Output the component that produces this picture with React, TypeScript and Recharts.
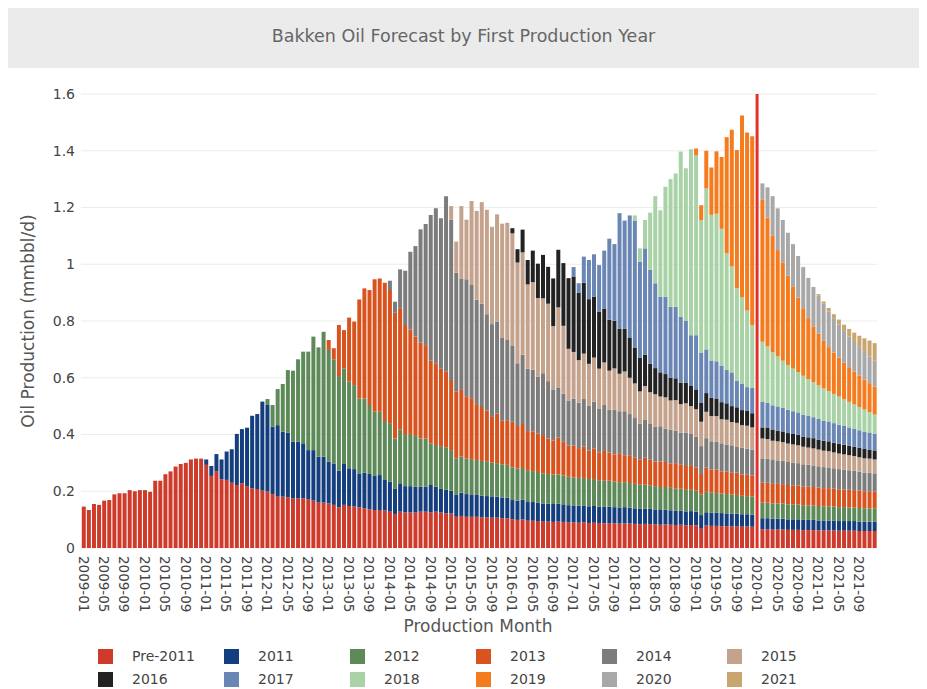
import React from 'react';
import { BarChart, Bar, XAxis, YAxis, CartesianGrid, ReferenceLine } from 'recharts';

// Category labels: production months 2009-01 .. 2021-12
const MONTHS: string[] = [];
for (let y = 2009; y <= 2021; y++) {
  for (let m = 1; m <= 12; m++) MONTHS.push(`${y}-${String(m).padStart(2, '0')}`);
}

const Y_TICKS = [0, 0.2, 0.4, 0.6, 0.8, 1, 1.2, 1.4, 1.6];
const TODAY = '2020-01';

// Series values (mmbbl/d), each starting at its first production year (Jan)
const PRE_2011 = [
  0.146, 0.134, 0.155, 0.152, 0.167, 0.169, 0.189, 0.193, 0.193, 0.204, 0.200, 0.204,
  0.204, 0.198, 0.237, 0.237, 0.260, 0.270, 0.287, 0.296, 0.300, 0.312, 0.315, 0.315,
  0.293, 0.254, 0.271, 0.242, 0.240, 0.230, 0.222, 0.228, 0.218, 0.210, 0.208, 0.202,
  0.199, 0.190, 0.181, 0.181, 0.179, 0.175, 0.175, 0.175, 0.172, 0.167, 0.160, 0.160,
  0.157, 0.152, 0.143, 0.152, 0.148, 0.146, 0.143, 0.140, 0.136, 0.134, 0.134, 0.132,
  0.128, 0.120, 0.128, 0.125, 0.125, 0.125, 0.128, 0.128, 0.125, 0.128, 0.125, 0.122,
  0.122, 0.110, 0.113, 0.110, 0.110, 0.110, 0.108, 0.108, 0.107, 0.107, 0.105, 0.105,
  0.101, 0.099, 0.101, 0.096, 0.096, 0.095, 0.093, 0.093, 0.092, 0.093, 0.092, 0.090,
  0.090, 0.089, 0.090, 0.088, 0.089, 0.088, 0.087, 0.088, 0.087, 0.086, 0.087, 0.086,
  0.085, 0.083, 0.085, 0.084, 0.083, 0.082, 0.083, 0.082, 0.081, 0.082, 0.080, 0.081,
  0.080, 0.068, 0.079, 0.078, 0.078, 0.077, 0.077, 0.076, 0.077, 0.075, 0.076, 0.075,
  null, 0.066, 0.066, 0.065, 0.065, 0.065, 0.064, 0.064, 0.064, 0.063, 0.063, 0.063,
  0.062, 0.062, 0.062, 0.062, 0.061, 0.061, 0.061, 0.061, 0.060, 0.060, 0.060, 0.060,
];
const Y2011 = [
  0.019, 0.035, 0.060, 0.070, 0.100, 0.118, 0.180, 0.191, 0.206, 0.256, 0.264, 0.314,
  0.305, 0.238, 0.252, 0.229, 0.227, 0.200, 0.200, 0.194, 0.173, 0.178, 0.162, 0.162,
  0.147, 0.146, 0.130, 0.144, 0.133, 0.132, 0.120, 0.125, 0.125, 0.120, 0.123, 0.110,
  0.106, 0.090, 0.100, 0.093, 0.093, 0.091, 0.088, 0.088, 0.097, 0.088, 0.085, 0.083,
  0.080, 0.077, 0.082, 0.080, 0.079, 0.077, 0.077, 0.075, 0.075, 0.074, 0.073, 0.072,
  0.068, 0.068, 0.069, 0.066, 0.066, 0.065, 0.064, 0.063, 0.063, 0.063, 0.062, 0.061,
  0.060, 0.060, 0.060, 0.059, 0.059, 0.058, 0.058, 0.058, 0.057, 0.057, 0.057, 0.056,
  0.055, 0.055, 0.054, 0.054, 0.053, 0.052, 0.052, 0.051, 0.050, 0.050, 0.049, 0.049,
  0.048, 0.048, 0.047, 0.047, 0.046, 0.046, 0.045, 0.045, 0.044, 0.044, 0.043, 0.043,
  null, 0.039, 0.039, 0.038, 0.038, 0.038, 0.037, 0.037, 0.037, 0.036, 0.036, 0.036,
  0.035, 0.035, 0.035, 0.035, 0.034, 0.034, 0.034, 0.034, 0.033, 0.033, 0.033, 0.033,
];
const Y2012 = [
  0.021, 0.076, 0.127, 0.168, 0.221, 0.250, 0.290, 0.323, 0.347, 0.400, 0.385, 0.440,
  0.394, 0.367, 0.333, 0.337, 0.305, 0.296, 0.264, 0.262, 0.243, 0.226, 0.223, 0.206,
  0.206, 0.176, 0.190, 0.180, 0.184, 0.179, 0.170, 0.170, 0.147, 0.147, 0.149, 0.150,
  0.143, 0.129, 0.127, 0.125, 0.124, 0.123, 0.122, 0.121, 0.120, 0.118, 0.117, 0.116,
  0.115, 0.113, 0.112, 0.110, 0.109, 0.108, 0.106, 0.105, 0.104, 0.103, 0.102, 0.100,
  0.099, 0.098, 0.097, 0.096, 0.095, 0.093, 0.092, 0.091, 0.090, 0.089, 0.088, 0.087,
  0.086, 0.085, 0.084, 0.083, 0.082, 0.081, 0.080, 0.079, 0.078, 0.077, 0.076, 0.075,
  0.074, 0.073, 0.072, 0.071, 0.070, 0.069, 0.068, 0.067, 0.066, 0.065, 0.064, 0.063,
  null, 0.055, 0.055, 0.054, 0.054, 0.054, 0.053, 0.053, 0.052, 0.052, 0.051, 0.051,
  0.051, 0.050, 0.050, 0.049, 0.049, 0.049, 0.048, 0.048, 0.048, 0.047, 0.047, 0.047,
];
const Y2013 = [
  0.035, 0.039, 0.180, 0.135, 0.226, 0.224, 0.349, 0.388, 0.405, 0.467, 0.470, 0.487,
  0.469, 0.443, 0.427, 0.388, 0.368, 0.350, 0.338, 0.329, 0.291, 0.288, 0.274, 0.266,
  0.247, 0.235, 0.235, 0.220, 0.215, 0.197, 0.190, 0.180, 0.160, 0.175, 0.155, 0.155,
  0.161, 0.150, 0.155, 0.140, 0.140, 0.135, 0.135, 0.125, 0.120, 0.130, 0.120, 0.110,
  0.112, 0.105, 0.110, 0.100, 0.108, 0.098, 0.105, 0.100, 0.096, 0.102, 0.095, 0.098,
  0.092, 0.088, 0.095, 0.090, 0.087, 0.090, 0.088, 0.085, 0.090, 0.086, 0.084, 0.087,
  0.082, 0.072, 0.085, 0.080, 0.083, 0.078, 0.080, 0.077, 0.079, 0.075, 0.077, 0.074,
  null, 0.070, 0.070, 0.069, 0.069, 0.068, 0.068, 0.067, 0.067, 0.066, 0.066, 0.065,
  0.065, 0.064, 0.064, 0.063, 0.063, 0.062, 0.062, 0.061, 0.061, 0.060, 0.060, 0.059,
];
const Y2014 = [
  0.033, 0.039, 0.137, 0.191, 0.274, 0.319, 0.399, 0.427, 0.514, 0.546, 0.529, 0.619,
  0.566, 0.419, 0.393, 0.412, 0.399, 0.368, 0.364, 0.340, 0.327, 0.324, 0.290, 0.285,
  0.267, 0.221, 0.244, 0.220, 0.217, 0.200, 0.218, 0.202, 0.180, 0.177, 0.168, 0.159,
  0.165, 0.160, 0.168, 0.158, 0.165, 0.155, 0.162, 0.150, 0.158, 0.148, 0.155, 0.145,
  0.140, 0.128, 0.135, 0.128, 0.122, 0.124, 0.118, 0.120, 0.115, 0.112, 0.117, 0.110,
  0.108, 0.098, 0.104, 0.100, 0.098, 0.099, 0.095, 0.097, 0.092, 0.094, 0.090, 0.092,
  null, 0.086, 0.085, 0.084, 0.083, 0.082, 0.081, 0.080, 0.079, 0.078, 0.077, 0.076,
  0.075, 0.074, 0.073, 0.072, 0.071, 0.070, 0.069, 0.068, 0.067, 0.066, 0.065, 0.064,
];
const Y2015 = [
  0.047, 0.110, 0.255, 0.210, 0.296, 0.313, 0.358, 0.368, 0.343, 0.378, 0.403, 0.413,
  0.397, 0.355, 0.361, 0.297, 0.309, 0.278, 0.264, 0.273, 0.223, 0.282, 0.239, 0.182,
  0.165, 0.150, 0.160, 0.148, 0.155, 0.140, 0.150, 0.138, 0.145, 0.132, 0.140, 0.128,
  0.122, 0.113, 0.118, 0.110, 0.115, 0.105, 0.110, 0.103, 0.107, 0.100, 0.104, 0.098,
  0.097, 0.086, 0.093, 0.089, 0.090, 0.085, 0.087, 0.082, 0.083, 0.080, 0.081, 0.078,
  null, 0.070, 0.069, 0.068, 0.067, 0.066, 0.065, 0.064, 0.063, 0.062, 0.061, 0.060,
  0.059, 0.058, 0.057, 0.056, 0.055, 0.054, 0.053, 0.052, 0.051, 0.050, 0.050, 0.049,
];
const Y2016 = [
  0.018, 0.047, 0.080, 0.086, 0.111, 0.121, 0.153, 0.130, 0.168, 0.203, 0.221, 0.249,
  0.266, 0.237, 0.250, 0.228, 0.215, 0.200, 0.190, 0.180, 0.168, 0.158, 0.150, 0.142,
  0.125, 0.118, 0.110, 0.100, 0.092, 0.085, 0.082, 0.080, 0.077, 0.075, 0.073, 0.071,
  0.070, 0.066, 0.066, 0.064, 0.062, 0.060, 0.058, 0.056, 0.055, 0.053, 0.052, 0.050,
  null, 0.039, 0.039, 0.038, 0.038, 0.038, 0.037, 0.037, 0.037, 0.036, 0.036, 0.036,
  0.035, 0.035, 0.035, 0.034, 0.034, 0.034, 0.033, 0.033, 0.033, 0.033, 0.032, 0.032,
];
const Y2017 = [
  0.033, 0.034, 0.092, 0.138, 0.149, 0.165, 0.204, 0.285, 0.270, 0.408, 0.382, 0.430,
  0.449, 0.339, 0.375, 0.331, 0.299, 0.267, 0.273, 0.250, 0.252, 0.233, 0.217, 0.179,
  0.191, 0.178, 0.154, 0.132, 0.131, 0.129, 0.118, 0.119, 0.094, 0.092, 0.084, 0.089,
  null, 0.091, 0.089, 0.087, 0.085, 0.084, 0.082, 0.080, 0.079, 0.077, 0.076, 0.074,
  0.073, 0.071, 0.070, 0.069, 0.067, 0.066, 0.065, 0.064, 0.062, 0.061, 0.060, 0.059,
];
const Y2018 = [
  0.018, 0.047, 0.100, 0.202, 0.307, 0.304, 0.387, 0.450, 0.470, 0.582, 0.538, 0.655,
  0.635, 0.466, 0.567, 0.513, 0.520, 0.482, 0.410, 0.373, 0.325, 0.306, 0.270, 0.222,
  null, 0.211, 0.198, 0.187, 0.176, 0.165, 0.158, 0.150, 0.142, 0.137, 0.129, 0.123,
  0.118, 0.113, 0.106, 0.103, 0.100, 0.094, 0.090, 0.085, 0.082, 0.078, 0.072, 0.067,
];
const Y2019 = [
  0.023, 0.053, 0.133, 0.167, 0.220, 0.253, 0.410, 0.482, 0.488, 0.640, 0.627, 0.665,
  null, 0.500, 0.455, 0.410, 0.375, 0.345, 0.315, 0.290, 0.262, 0.238, 0.215, 0.197,
  0.182, 0.168, 0.156, 0.146, 0.137, 0.129, 0.122, 0.116, 0.111, 0.106, 0.102, 0.099,
];
const Y2020 = [
  null, 0.058, 0.106, 0.140, 0.147, 0.151, 0.151, 0.149, 0.147, 0.145, 0.142, 0.139,
  0.135, 0.131, 0.126, 0.121, 0.116, 0.112, 0.108, 0.104, 0.100, 0.097, 0.094, 0.091,
];
const Y2021 = [
  0.005, 0.008, 0.012, 0.014, 0.018, 0.022, 0.027, 0.033, 0.040, 0.048, 0.056, 0.062,
];

const SERIES_NAMES = ['Pre-2011', '2011', '2012', '2013', '2014', '2015', '2016', '2017', '2018', '2019', '2020', '2021'];
const SERIES_START = ['2009-01', '2011-01', '2012-01', '2013-01', '2014-01', '2015-01', '2016-01', '2017-01', '2018-01', '2019-01', '2020-01', '2021-01'];
const SERIES_VALUES = [PRE_2011, Y2011, Y2012, Y2013, Y2014, Y2015, Y2016, Y2017, Y2018, Y2019, Y2020, Y2021];
const SERIES_COLORS = ['#cf3b2b', '#143e7e', '#5e8a5a', '#d9531f', '#7c7c7c', '#c4a28c', '#222222', '#6a86b5', '#a9d3a6', '#f57b1f', '#a8a8a8', '#c9a56f'];

const DATA = MONTHS.map((month, i) => {
  const row: Record<string, any> = { month };
  SERIES_NAMES.forEach((name, s) => {
    const k = i - MONTHS.indexOf(SERIES_START[s]);
    if (k >= 0 && k < SERIES_VALUES[s].length) row[name] = SERIES_VALUES[s][k];
  });
  return row;
});

const FONT = '"DejaVu Sans", sans-serif';

const XTick = (props: any) => {
  const { x, y, payload } = props;
  return (
    <text
      x={x}
      y={y}
      transform={`rotate(90, ${x}, ${y})`}
      textAnchor="start"
      dominantBaseline="central"
      fontSize={13.5}
      fill="#444"
      fontFamily={FONT}
    >
      {payload.value}
    </text>
  );
};

const LEGEND_COLS = [90, 216, 342, 468, 594, 719];

export default function App() {
  return (
    <div style={{ position: 'relative', width: 911, height: 681, fontFamily: FONT, background: '#fff' }}>
      <div
        style={{
          position: 'absolute', left: 0, top: 0, width: 911, height: 60, background: '#ebebeb',
          textAlign: 'center', lineHeight: '56px', fontSize: 17.5, color: '#666',
        }}
      >
        Bakken Oil Forecast by First Production Year
      </div>
      <div style={{ position: 'absolute', left: 0, top: 60 }}>
        <BarChart
          width={911}
          height={621}
          data={DATA}
          margin={{ top: 26, right: 42, left: 3, bottom: 55 }}
          barCategoryGap="15%"
        >
          <CartesianGrid vertical={false} stroke="#ececec" />
          <XAxis
            dataKey="month"
            interval={3}
            tick={<XTick />}
            tickLine={false}
            axisLine={false}
            tickSize={0}
            tickMargin={8}
            height={86}
          />
          <YAxis
            domain={[0, 1.6]}
            ticks={Y_TICKS}
            width={70}
            tickLine={false}
            axisLine={false}
            tickSize={0}
            tickMargin={6}
            tick={{ fontSize: 14, fill: '#444', fontFamily: FONT }}
          />
          {SERIES_NAMES.map((name, s) => (
            <Bar key={name} dataKey={name} stackId="a" fill={SERIES_COLORS[s]} isAnimationActive={false} />
          ))}
          <ReferenceLine x={TODAY} stroke="#e3302b" strokeWidth={3} ifOverflow="extendDomain" />
        </BarChart>
      </div>
      <div
        style={{
          position: 'absolute', left: 20, top: 313, transform: 'translate(-50%, -50%) rotate(-90deg)',
          whiteSpace: 'nowrap', fontSize: 17, color: '#555',
        }}
      >
        Oil Production (mmbbl/d)
      </div>
      <div
        style={{
          position: 'absolute', left: 470, top: 618, transform: 'translate(-50%, -50%)',
          whiteSpace: 'nowrap', fontSize: 17, color: '#555',
        }}
      >
        Production Month
      </div>
      {SERIES_NAMES.map((name, s) => {
        const row = Math.floor(s / 6);
        const col = s % 6;
        const cy = row === 0 ? 648 : 671;
        return (
          <div key={name} style={{ position: 'absolute', left: LEGEND_COLS[col], top: cy - 8, height: 16, display: 'flex', alignItems: 'center' }}>
            <div style={{ width: 15, height: 15, background: SERIES_COLORS[s] }} />
            <span style={{ marginLeft: 19, fontSize: 14, color: '#444' }}>{name}</span>
          </div>
        );
      })}
    </div>
  );
}
